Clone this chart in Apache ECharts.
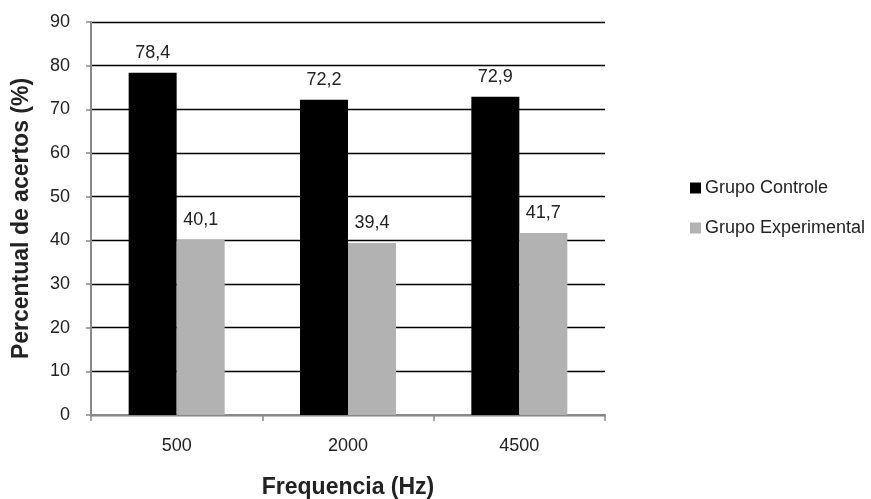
<!DOCTYPE html>
<html>
<head>
<meta charset="utf-8">
<script src="https://cdn.jsdelivr.net/npm/echarts@6/dist/echarts.min.js"></script>
<style>
html,body{margin:0;padding:0;background:#fff;}
#c{width:871px;height:499px;}
</style>
</head>
<body>
<div id="c"></div>
<script>
var categories = ['500', '2000', '4500'];
var controle = [78.4, 72.2, 72.9];
var experimental = [40.1, 39.4, 41.7];
var seriesNames = ['Grupo Controle', 'Grupo Experimental'];
var yTitle = 'Percentual de acertos (%)';
var xTitle = 'Frequencia (Hz)';

var font = 'Liberation Sans, Arial, Helvetica, sans-serif';
var chart = echarts.init(document.getElementById('c'), null, {renderer: 'canvas'});
function lab(p) { return String(p.value.toFixed(1)).replace('.', ','); }
chart.setOption({
  animation: false,
  backgroundColor: '#ffffff',
  textStyle: {fontFamily: font},
  grid: {left: 91, right: 266, top: 22, bottom: 84, containLabel: false, outerBoundsMode: 'none'},
  legend: {
    orient: 'vertical',
    left: 685,
    top: 174,
    itemWidth: 11,
    itemHeight: 11,
    itemGap: 22,
    icon: 'rect',
    itemStyle: {borderWidth: 0},
    textStyle: {fontFamily: font, fontSize: 18, color: '#222', padding: [0,0,0,-1]},
    data: seriesNames
  },
  xAxis: {
    type: 'category',
    data: categories,
    name: xTitle,
    nameLocation: 'middle',
    nameGap: 61,
    nameTextStyle: {fontFamily: font, fontSize: 23, fontWeight: 'bold', color: '#222'},
    axisLine: {lineStyle: {color: '#888', width: 2}},
    axisTick: {show: true, length: 6, lineStyle: {color: '#888', width: 1.5}},
    axisLabel: {fontFamily: font, fontSize: 18, color: '#222', margin: 22}
  },
  yAxis: {
    type: 'value',
    min: 0, max: 90, interval: 10,
    name: yTitle,
    nameLocation: 'middle',
    nameGap: 58,
    nameTextStyle: {fontFamily: font, fontSize: 23, fontWeight: 'bold', color: '#222'},
    axisLine: {show: true, lineStyle: {color: '#888', width: 2}},
    axisTick: {show: true, length: 5, lineStyle: {color: '#888', width: 1.5}},
    axisLabel: {fontFamily: font, fontSize: 18, color: '#222', margin: 21},
    splitLine: {lineStyle: {color: '#000', width: 1.3}}
  },
  series: [
    {
      name: seriesNames[0], type: 'bar', data: controle,
      barWidth: 48, barGap: '0%',
      itemStyle: {color: '#000000'},
      label: {show: true, position: 'top', distance: 11, formatter: lab,
              fontFamily: font, fontSize: 18, color: '#222'}
    },
    {
      name: seriesNames[1], type: 'bar', data: experimental,
      barWidth: 48, barGap: '0%',
      itemStyle: {color: '#b2b2b2'},
      label: {show: true, position: 'top', distance: 11, formatter: lab,
              fontFamily: font, fontSize: 18, color: '#222'}
    }
  ]
});
</script>
</body>
</html>
